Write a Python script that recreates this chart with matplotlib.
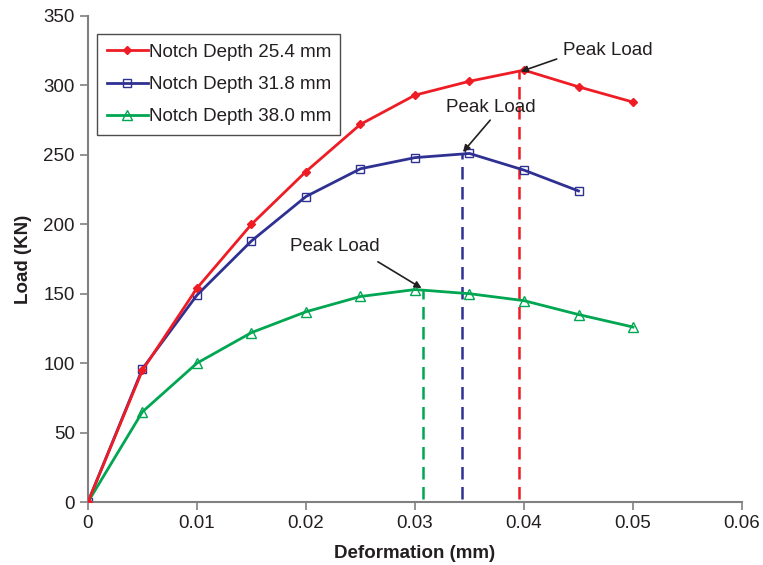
import matplotlib
matplotlib.use("Agg")
import matplotlib.pyplot as plt

plt.rcParams['font.family'] = ['Liberation Sans', 'DejaVu Sans']

# Data
x_red = [0, 0.005, 0.01, 0.015, 0.02, 0.025, 0.03, 0.035, 0.04, 0.045, 0.05]
y_red = [0, 95, 154, 200, 238, 272, 293, 303, 311, 299, 288]
x_blue = [0, 0.005, 0.01, 0.015, 0.02, 0.025, 0.03, 0.035, 0.04, 0.045]
y_blue = [0, 96, 149, 188, 220, 240, 248, 251, 239, 224]
x_green = [0, 0.005, 0.01, 0.015, 0.02, 0.025, 0.03, 0.035, 0.04, 0.045, 0.05]
y_green = [0, 65, 100, 122, 137, 148, 153, 150, 145, 135, 126]

labels = ["Notch Depth 25.4 mm", "Notch Depth 31.8 mm", "Notch Depth 38.0 mm"]
colors = ["#ee1c25", "#2e3192", "#00a651"]

peak_x = [0.0395, 0.0343, 0.0307]
peak_y = [311, 251, 153]

x_ticks = [0, 0.01, 0.02, 0.03, 0.04, 0.05, 0.06]
x_ticklabels = ["0", "0.01", "0.02", "0.03", "0.04", "0.05", "0.06"]
y_ticks = [0, 50, 100, 150, 200, 250, 300, 350]

txtc = "#231f20"
FS = 13.5
fig = plt.figure(figsize=(7.63, 5.65), dpi=100)
ax = fig.add_axes([0.1153, 0.1115, 0.8572, 0.8602])

ax.plot(x_red, y_red, color=colors[0], lw=2, marker='D', ms=4.5,
        mfc=colors[0], mec=colors[0], label=labels[0], zorder=3)
ax.plot(x_blue, y_blue, color=colors[1], lw=2, marker='s', ms=6,
        mfc='none', mec=colors[1], mew=1, label=labels[1], zorder=2)
ax.plot(x_green, y_green, color=colors[2], lw=2, marker='^', ms=6.5,
        mfc='none', mec=colors[2], mew=1, label=labels[2], zorder=2)

for px, py, c in zip(peak_x, peak_y, colors):
    ax.plot([px, px], [2, py], color=c, lw=1.8, ls=(0, (5, 3)), zorder=1)

ann = [((0.0436, 325), (0.0430, 319), (0.0397, 310)),
       ((0.0328, 284), (0.0369, 275), (0.0344, 252)),
       ((0.0185, 184), (0.0266, 173), (0.0306, 154))]
for (tx, ty), (ax0, ay0), (hx, hy) in ann:
    ax.text(tx, ty, "Peak Load", fontsize=FS, color=txtc, ha='left', va='center')
    ax.annotate("", xy=(hx, hy), xytext=(ax0, ay0),
                arrowprops=dict(arrowstyle='-|>', color='#231f20', lw=1.2,
                                mutation_scale=10, shrinkA=0, shrinkB=0))

ax.set_xlim(0, 0.06)
ax.set_ylim(0, 350)
ax.set_xticks(x_ticks)
ax.set_xticklabels(x_ticklabels)
ax.set_yticks(y_ticks)
for s in ['top', 'right']:
    ax.spines[s].set_visible(False)
for s in ['left', 'bottom']:
    ax.spines[s].set_color('#808080')
    ax.spines[s].set_linewidth(1.5)
ax.tick_params(colors='#808080', labelcolor=txtc, labelsize=FS, length=6, width=1.2)
ax.set_xlabel("Deformation (mm)", fontsize=FS, fontweight='bold', color=txtc, labelpad=9)
ax.set_ylabel("Load (KN)", fontsize=FS, fontweight='bold', color=txtc, labelpad=8)

leg = ax.legend(loc='upper left', bbox_to_anchor=(0.014, 0.962), fontsize=FS,
                frameon=True, fancybox=False, edgecolor='#231f20', handlelength=2.2,
                handletextpad=0.05, borderpad=0.5, borderaxespad=0,
                labelspacing=0.8)
leg.get_frame().set_linewidth(1.0)
for t in leg.get_texts():
    t.set_color(txtc)

fig.savefig("out.png", dpi=100)
